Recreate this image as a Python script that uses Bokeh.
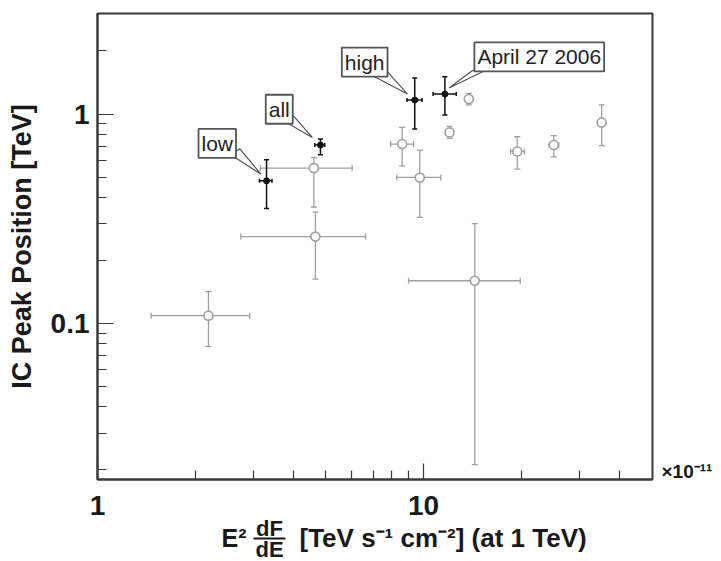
import numpy as np
from bokeh.plotting import figure
from bokeh.layouts import column
from bokeh.models import (ColumnDataSource, Whisker, TeeHead, FixedTicker,
                          CustomJSTickFormatter, Label, Range1d, LogAxis)
from bokeh.core.properties import value
from bokeh.embed import file_html
from bokeh.resources import INLINE

# ---- data: x in units of 1e-11 TeV s^-1 cm^-2, y = IC peak position in TeV ----
sel_names = ["low", "all", "high", "April 27 2006"]
sel_x = [3.30, 4.83, 9.40, 11.63]
sel_y = [0.480, 0.711, 1.166, 1.246]
sel_x_lo = [3.14, 4.64, 8.90, 10.70]
sel_x_hi = [3.43, 4.98, 9.90, 12.60]
sel_y_lo = [0.354, 0.640, 0.848, 0.990]
sel_y_hi = [0.605, 0.760, 1.485, 1.507]

oth_x = [2.19, 4.66, 4.61, 8.60, 9.74, 12.02, 13.77, 14.37, 19.39, 25.1, 35.2]
oth_y = [0.109, 0.260, 0.552, 0.719, 0.498, 0.817, 1.179, 0.160, 0.663, 0.711, 0.912]
oth_x_lo = [1.46, 2.75, 3.16, 7.93, 8.28, 12.02, 13.77, 9.00, 18.5, 24.3, 35.2]
oth_x_hi = [2.93, 6.64, 6.04, 9.33, 11.30, 12.02, 13.77, 19.8, 20.4, 26.0, 35.2]
oth_y_lo = [0.0777, 0.163, 0.36, 0.566, 0.321, 0.765, 1.105, 0.0212, 0.546, 0.625, 0.706]
oth_y_hi = [0.142, 0.34, 0.62, 0.863, 0.673, 0.872, 1.255, 0.30, 0.779, 0.788, 1.107]

x_major = [1, 10]
x_minor = [2, 3, 4, 5, 6, 7, 8, 9, 20, 30, 40]
y_major = [0.1, 1]
y_minor = [0.02, 0.03, 0.04, 0.05, 0.06, 0.07, 0.08, 0.09,
           0.2, 0.3, 0.4, 0.5, 0.6, 0.7, 0.8, 0.9, 2]
x_start, x_end = 1.0, 50.4
y_start, y_end = 0.018, 3.02

# callout label anchors (data coords) and wedge shapes
lab_x = [2.33, 3.61, 6.60, 22.65]
lab_y = [0.724, 1.054, 1.77, 1.874]
wedge_xs = [[2.57, 2.73, 3.17], [3.72, 3.99, 4.56], [6.98, 7.70, 8.93], [14.09, 15.4, 11.98]]
wedge_ys = [[0.637, 0.683, 0.517], [0.929, 0.981, 0.773], [1.524, 1.61, 1.246], [1.61, 1.61, 1.331]]

FONT = "Liberation Sans"
GRAY = "#a0a0a0"
FRAME = "#3a3a3a"
TXT = "#1a1a1a"

# ---- layout geometry (pixels) ----
W = 718
FL, FR, FT, FB = 97, 652, 13, 479          # main frame edges
H1 = FB + 5
HT = 560                                     # total height
QT = 30                                      # strip top border (holds the x tick labels)
H2 = HT - H1
dec_x = (FR - FL) / np.log10(x_end / x_start)
dec_y = (FB - FT) / np.log10(y_end / y_start)

p = figure(width=W, height=H1, x_axis_type="log", y_axis_type="log",
           x_range=Range1d(x_start, x_end), y_range=Range1d(y_start, y_end),
           output_backend="svg", toolbar_location=None,
           min_border_left=FL, min_border_right=W - FR, min_border_top=FT,
           min_border_bottom=H1 - FB)
p.xgrid.visible = False
p.ygrid.visible = False
p.outline_line_color = FRAME
p.outline_line_width = 2
p.background_fill_color = "white"
p.border_fill_color = "white"

fmt = CustomJSTickFormatter(code="return tick.toString();")
for ax, maj, mino in ((p.xaxis[0], x_major, x_minor), (p.yaxis[0], y_major, y_minor)):
    ax.ticker = FixedTicker(ticks=maj, minor_ticks=mino)
    ax.formatter = fmt
    ax.major_tick_in = 16
    ax.major_tick_out = 0
    ax.minor_tick_in = 9
    ax.minor_tick_out = 0
    ax.major_tick_line_color = FRAME
    ax.minor_tick_line_color = FRAME
    ax.major_tick_line_width = 1.2
    ax.minor_tick_line_width = 1.2
    ax.axis_line_color = FRAME
    ax.axis_line_width = 2
    ax.major_label_text_font = FONT
    ax.major_label_text_font_style = "bold"
    ax.major_label_text_font_size = "28px"
    ax.major_label_text_color = TXT
    ax.major_label_standoff = 8

# x tick labels of the main axis are shown by the strip's axis below
p.xaxis[0].formatter = CustomJSTickFormatter(code="return '';")
p.xaxis[0].major_label_standoff = 0
p.xaxis[0].major_label_text_font_size = "1px"

p.yaxis[0].axis_label = "IC Peak Position [TeV]"
p.yaxis[0].axis_label_text_font = FONT
p.yaxis[0].axis_label_text_font_style = "bold"
p.yaxis[0].axis_label_text_font_size = "27px"
p.yaxis[0].axis_label_text_color = TXT
p.yaxis[0].axis_label_standoff = 11

# exponent note at the right end of the x axis
exp_axis = LogAxis(ticker=FixedTicker(ticks=[y_start * 10 ** (3 / dec_y)]),
                   formatter=CustomJSTickFormatter(code="return '×10⁻¹¹';"),
                   major_tick_line_color=None, minor_tick_line_color=None,
                   axis_line_color=None, major_label_standoff=3,
                   major_label_text_font=FONT, major_label_text_font_style="bold",
                   major_label_text_font_size="19px", major_label_text_line_height=0.8,
                   major_label_text_color=TXT)
p.add_layout(exp_axis, "right")

# gray (other) points
oth = ColumnDataSource(dict(x=oth_x, y=oth_y, xlo=oth_x_lo, xhi=oth_x_hi, ylo=oth_y_lo, yhi=oth_y_hi))
mask = [lo < hi for lo, hi in zip(oth_x_lo, oth_x_hi)]
othx = ColumnDataSource(dict(y=[v for v, m in zip(oth_y, mask) if m],
                             xlo=[v for v, m in zip(oth_x_lo, mask) if m],
                             xhi=[v for v, m in zip(oth_x_hi, mask) if m]))
p.add_layout(Whisker(source=oth, base="x", lower="ylo", upper="yhi", dimension="height",
                     line_color=GRAY, line_width=1.3,
                     lower_head=TeeHead(size=6, line_color=GRAY, line_width=1.3),
                     upper_head=TeeHead(size=6, line_color=GRAY, line_width=1.3)))
p.add_layout(Whisker(source=othx, base="y", lower="xlo", upper="xhi", dimension="width",
                     line_color=GRAY, line_width=1.3,
                     lower_head=TeeHead(size=6, line_color=GRAY, line_width=1.3),
                     upper_head=TeeHead(size=6, line_color=GRAY, line_width=1.3)))
p.scatter("x", "y", source=oth, marker="circle", size=9, fill_color="white",
          line_color=GRAY, line_width=1.6, level="overlay")

# callout wedges
p.patches(wedge_xs, wedge_ys, fill_color="white", line_color="#555555", line_width=1.2)

# black (selected) points
sel = ColumnDataSource(dict(x=sel_x, y=sel_y, xlo=sel_x_lo, xhi=sel_x_hi, ylo=sel_y_lo, yhi=sel_y_hi))
BLK = "#111111"
p.add_layout(Whisker(source=sel, base="x", lower="ylo", upper="yhi", dimension="height",
                     line_color=BLK, line_width=1.5,
                     lower_head=TeeHead(size=5, line_color=BLK, line_width=1.5),
                     upper_head=TeeHead(size=5, line_color=BLK, line_width=1.5)))
p.add_layout(Whisker(source=sel, base="y", lower="xlo", upper="xhi", dimension="width",
                     line_color=BLK, line_width=1.5,
                     lower_head=TeeHead(size=4, line_color=BLK, line_width=1.5),
                     upper_head=TeeHead(size=4, line_color=BLK, line_width=1.5)))
p.scatter("x", "y", source=sel, marker="circle", size=6, fill_color=BLK,
          line_color=BLK, level="overlay")

# callout labels
for name, lx, ly in zip(sel_names, lab_x, lab_y):
    p.add_layout(Label(x=lx, y=ly, text=name, text_align="center", text_baseline="middle",
                       text_font=FONT, text_font_size="21px", text_color="#222222",
                       background_fill_color="white", border_line_color="#555555",
                       border_line_width=1.8, padding=3))

# ---- strip below: x tick labels (its own axis, above its frame) and composite title ----
# (the column layout aligns this strip's frame with the main frame, so it shares p.x_range)
def off(px):
    """x value at a horizontal pixel offset from the frame's left edge"""
    return x_start * 10 ** (px / dec_x)

q = figure(width=W, height=H2, x_axis_type="log",
           x_range=p.x_range, y_range=Range1d(HT, H1 + QT),   # y = page pixel row
           output_backend="svg", toolbar_location=None,
           x_axis_location="above", y_axis_location=None,
           min_border_left=FL, min_border_right=W - FR, min_border_top=QT, min_border_bottom=0)
q.xgrid.visible = False
q.ygrid.visible = False
q.outline_line_color = None
q.background_fill_color = "white"
q.border_fill_color = "white"
qa = q.xaxis[0]
qa.ticker = FixedTicker(ticks=x_major, minor_ticks=[])
qa.formatter = fmt
qa.axis_line_color = None
qa.major_tick_line_color = None
qa.minor_tick_line_color = None
qa.major_tick_in = 0
qa.major_tick_out = 0
qa.minor_tick_in = 0
qa.minor_tick_out = 0
qa.major_label_standoff = 0
qa.major_label_text_font = FONT
qa.major_label_text_font_style = "bold"
qa.major_label_text_font_size = "28px"
qa.major_label_text_line_height = 0.95
qa.major_label_text_color = TXT

tstyle = dict(text_font=value(FONT), text_font_style="bold", text_color=TXT,
              text_baseline="middle")
q.text(x=[off(124)], y=[537], text=["E²"], text_align="left",
       text_font_size="25px", **tstyle)
q.text(x=[off(172), off(172)], y=[528, 548.5], text=["dF", "dE"],
       text_align="center", text_font_size="22px", **tstyle)
q.segment(x0=[off(156)], y0=[538], x1=[off(188)], y1=[538],
          line_color=TXT, line_width=2)
q.text(x=[off(202)], y=[537], text=["[TeV s⁻¹ cm⁻²] (at 1 TeV)"], text_align="left",
       text_font_size="26px", **tstyle)

open("out.html", "w").write(file_html(column(p, q), INLINE))
